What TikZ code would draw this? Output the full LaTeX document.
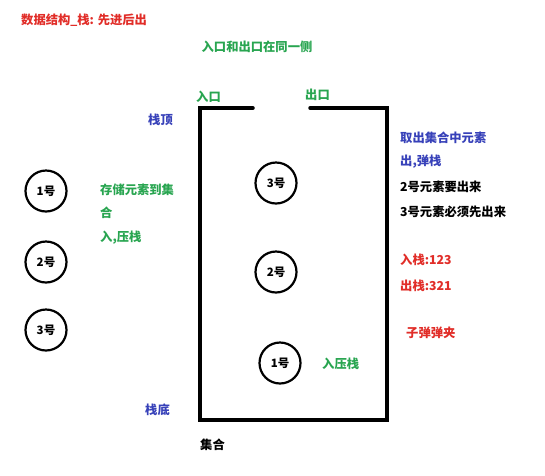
\documentclass[tikz,border=0pt]{standalone}
\usepackage{fontspec}
\setmainfont{Noto Sans CJK SC}
\definecolor{tred}{RGB}{225,45,40}
\definecolor{tgreen}{RGB}{40,165,80}
\definecolor{tblue}{RGB}{55,65,185}
\begin{document}
\begin{tikzpicture}[x=1pt,y=-1pt,
  txt/.style={font=\fontsize{12.3}{14}\selectfont\bfseries, inner sep=0pt, anchor=west},
  ball/.style={circle, draw=black, line width=2.2pt, minimum size=41pt, inner sep=0pt, font=\fontsize{11.5}{13}\selectfont\bfseries},
  wall/.style={line width=3.5pt, line cap=round, line join=miter}]
\useasboundingbox[fill=white] (0,0) rectangle (545,475);
% title
\node[txt, text=tred] (title) at (21,20) {数据结构\_栈: 先进后出};
\node[txt, text=tgreen, anchor=center] (same) at (257,47) {入口和出口在同一侧};
\node[txt, text=tgreen] (in) at (196,97) {入口};
\node[txt, text=tgreen] (out) at (305,95) {出口};
% container
\coordinate (tl) at (200,108);
\coordinate (tlr) at (253,108);
\coordinate (trl) at (310,108);
\coordinate (tr) at (387,108);
\coordinate (bl) at (200,420);
\coordinate (br) at (387,420);
\draw[wall] (tlr) -- (tl) -- (bl) -- (br) -- (tr) -- (trl);
\node[txt, text=tblue] (top) at (148,120) {栈顶};
\node[txt, text=tblue] (bottom) at (145,410) {栈底};
\node[txt] (set) at (200,445) {集合};
% balls in stack
\node[ball] (s3) at (276,183) {3号};
\node[ball] (s2) at (276,272) {2号};
\node[ball] (s1) at (280,363) {1号};
\node[txt, text=tgreen] (push1) at (322,364) {入压栈};
% balls outside
\node[ball] (b1) at (46,191) {1号};
\node[ball] (b2) at (46,262) {2号};
\node[ball] (b3) at (46,330) {3号};
\node[txt, text=tgreen] (store) at (100,190) {存储元素到集};
\node[txt, text=tgreen] (he) at (100,213) {合};
\node[txt, text=tgreen] (push) at (100,238) {入,压栈};
% right texts
\node[txt, text=tblue] (take) at (400,138) {取出集合中元素};
\node[txt, text=tblue] (pop) at (400,162) {出,弹栈};
\node[txt] (two) at (400,187) {2号元素要出来};
\node[txt] (three) at (400,212) {3号元素必须先出来};
\node[txt, text=tred] (in123) at (400,260) {入栈:123};
\node[txt, text=tred] (out321) at (400,286) {出栈:321};
\node[txt, text=tred] (clip) at (406,333) {子弹弹夹};
\end{tikzpicture}
\end{document}
